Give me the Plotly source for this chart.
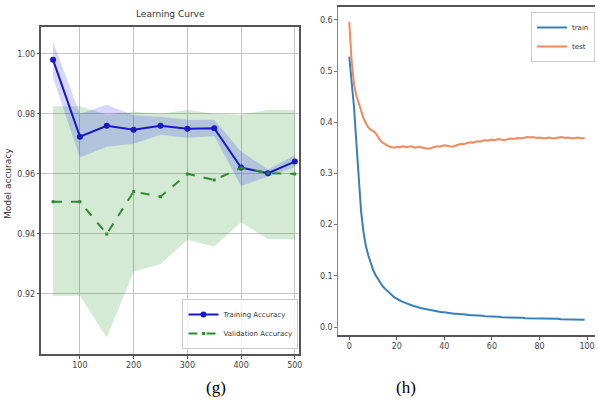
import plotly.graph_objects as go

# ---------------- data: (g) learning curve ----------------
train_sizes = [50, 100, 150, 200, 250, 300, 350, 400, 450, 500]
train_mean = [0.998, 0.9724, 0.976, 0.9747, 0.976, 0.975, 0.9752, 0.9621, 0.9602, 0.9641]
train_upper = [1.004, 0.980, 0.983, 0.9795, 0.979, 0.978, 0.978, 0.9675, 0.9615, 0.9663]
train_lower = [0.992, 0.9655, 0.969, 0.970, 0.973, 0.972, 0.9725, 0.9560, 0.9590, 0.9622]
val_mean = [0.9507, 0.9507, 0.940, 0.9541, 0.9524, 0.960, 0.958, 0.962, 0.9603, 0.960]
val_upper = [0.9825, 0.9825, 0.9797, 0.9807, 0.9800, 0.9813, 0.9800, 0.9797, 0.9813, 0.9813]
val_lower = [0.9194, 0.9194, 0.9054, 0.9274, 0.9300, 0.9380, 0.9358, 0.9439, 0.9382, 0.9382]
g_xticks = [100, 200, 300, 400, 500]
g_yticks = [0.92, 0.94, 0.96, 0.98, 1.00]
g_yticklabels = ["0.92", "0.94", "0.96", "0.98", "1.00"]

# ---------------- data: (h) loss curves ----------------
epochs = list(range(100))
train_loss = [
    0.528, 0.480, 0.430, 0.360, 0.290, 0.225, 0.185, 0.158, 0.140, 0.124,
    0.112, 0.102, 0.094, 0.087, 0.080, 0.075, 0.070, 0.066, 0.062, 0.058,
    0.055, 0.053, 0.050, 0.048, 0.046, 0.044, 0.042, 0.041, 0.040, 0.038,
    0.037, 0.036, 0.035, 0.034, 0.033, 0.032, 0.031, 0.031, 0.030, 0.029,
    0.029, 0.028, 0.028, 0.027, 0.026, 0.026, 0.025, 0.025, 0.025, 0.024,
    0.024, 0.023, 0.023, 0.023, 0.022, 0.022, 0.022, 0.021, 0.021, 0.021,
    0.020, 0.020, 0.020, 0.020, 0.019, 0.019, 0.019, 0.019, 0.018, 0.018,
    0.018, 0.018, 0.018, 0.018, 0.017, 0.017, 0.017, 0.017, 0.017, 0.017,
    0.017, 0.016, 0.016, 0.016, 0.016, 0.016, 0.016, 0.016, 0.016, 0.015,
    0.015, 0.015, 0.015, 0.015, 0.015, 0.015, 0.015, 0.015, 0.014, 0.014,
]
test_loss = [
    0.596, 0.520, 0.475, 0.452, 0.437, 0.420, 0.408, 0.398, 0.390, 0.385,
    0.383, 0.379, 0.371, 0.365, 0.360, 0.357, 0.354, 0.352, 0.351, 0.350,
    0.352, 0.351, 0.352, 0.353, 0.351, 0.352, 0.353, 0.351, 0.350, 0.352,
    0.351, 0.350, 0.349, 0.348, 0.349, 0.350, 0.352, 0.353, 0.352, 0.354,
    0.355, 0.354, 0.353, 0.352, 0.353, 0.355, 0.357, 0.358, 0.357, 0.359,
    0.360, 0.361, 0.360, 0.362, 0.363, 0.362, 0.364, 0.365, 0.364, 0.365,
    0.366, 0.365, 0.366, 0.367, 0.366, 0.365, 0.366, 0.367, 0.368, 0.367,
    0.368, 0.369, 0.368, 0.369, 0.370, 0.371, 0.370, 0.371, 0.370, 0.369,
    0.370, 0.369, 0.368, 0.369, 0.370, 0.369, 0.368, 0.369, 0.370, 0.371,
    0.370, 0.369, 0.370, 0.369, 0.368, 0.369, 0.370, 0.369, 0.368, 0.369,
]
h_xticks = [0, 20, 40, 60, 80, 100]
h_yticks = [0.0, 0.1, 0.2, 0.3, 0.4, 0.5, 0.6]
h_yticklabels = ["0.0", "0.1", "0.2", "0.3", "0.4", "0.5", "0.6"]

W, H = 598, 403
FONT = "DejaVu Sans"
TICKC = "#444444"

fig = go.Figure()

# bands
fig.add_trace(go.Scatter(
    x=train_sizes + train_sizes[::-1], y=val_upper + val_lower[::-1],
    fill="toself", fillcolor="rgba(0,128,0,0.17)", line=dict(width=0),
    mode="lines", showlegend=False, hoverinfo="skip", xaxis="x", yaxis="y"))
fig.add_trace(go.Scatter(
    x=train_sizes + train_sizes[::-1], y=train_upper + train_lower[::-1],
    fill="toself", fillcolor="rgba(0,0,255,0.16)", line=dict(width=0),
    mode="lines", showlegend=False, hoverinfo="skip", xaxis="x", yaxis="y"))
# lines
fig.add_trace(go.Scatter(
    x=train_sizes, y=train_mean, name="Training Accuracy", mode="lines+markers",
    line=dict(color="#1717c8", width=2), marker=dict(color="#1717c8", size=6, symbol="circle"),
    xaxis="x", yaxis="y", legend="legend"))
fig.add_trace(go.Scatter(
    x=train_sizes, y=val_mean, name="Validation Accuracy", mode="lines+markers",
    line=dict(color="#2e8b2e", width=2, dash="dash"), marker=dict(color="#2e8b2e", size=3, symbol="square"),
    xaxis="x", yaxis="y", legend="legend"))

fig.add_trace(go.Scatter(
    x=epochs, y=train_loss, name="train", mode="lines",
    line=dict(color="#3a7fb5", width=2), xaxis="x2", yaxis="y2", legend="legend2"))
fig.add_trace(go.Scatter(
    x=epochs, y=test_loss, name="test", mode="lines",
    line=dict(color="#f08a5d", width=2), xaxis="x2", yaxis="y2", legend="legend2"))

gx0, gx1 = 41.7 / W, 301 / W
gy0, gy1 = 1 - 354 / H, 1 - 26.5 / H
hx0, hx1 = 340 / W, 1.0
hy0, hy1 = 1 - 335 / H, 1 - 7 / H

fig.update_layout(
    width=W, height=H,
    margin=dict(l=0, r=0, t=0, b=0),
    paper_bgcolor="white", plot_bgcolor="white",
    font=dict(family=FONT, size=8, color=TICKC),
    xaxis=dict(domain=[gx0, gx1], range=[28.5, 508.7], tickvals=g_xticks,
               showgrid=True, gridcolor="#c4c4c4", gridwidth=1, zeroline=False,
               showline=True, linecolor="#555555", linewidth=1.5, mirror=True,
               ticks="outside", ticklen=3, tickcolor="#555555",
               tickfont=dict(size=8, color=TICKC), anchor="y"),
    yaxis=dict(domain=[gy0, gy1], range=[0.90, 1.0091], tickvals=g_yticks, ticktext=g_yticklabels,
               showgrid=True, gridcolor="#c4c4c4", gridwidth=1, zeroline=False,
               showline=True, linecolor="#555555", linewidth=1.5, mirror=True,
               ticks="outside", ticklen=3, tickcolor="#555555",
               tickfont=dict(size=8, color=TICKC), anchor="x"),
    xaxis2=dict(domain=[hx0, hx1], range=[-4.6, 103.35], tickvals=h_xticks,
                showgrid=False, zeroline=False,
                showline=True, linecolor="#555555", linewidth=1.5, mirror=True,
                ticks="outside", ticklen=3, tickcolor="#555555",
                tickfont=dict(size=8, color=TICKC), anchor="y2"),
    yaxis2=dict(domain=[hy0, hy1], range=[-0.0156, 0.625], tickvals=h_yticks, ticktext=h_yticklabels,
                showgrid=False, zeroline=False,
                showline=True, linecolor="#888888", linewidth=1, mirror=False,
                ticks="outside", ticklen=3, tickcolor="#777777",
                tickfont=dict(size=8, color=TICKC), anchor="x2"),
    legend=dict(x=300 / W, y=1 - 349 / H, xanchor="right", yanchor="bottom",
                bgcolor="rgba(255,255,255,0.8)", bordercolor="#cccccc", borderwidth=1,
                font=dict(size=7, family=FONT, color="#333333"),
                itemwidth=30, tracegroupgap=0),
    legend2=dict(x=1.0, y=1 - 12 / H, xanchor="right", yanchor="top",
                 bgcolor="rgba(255,255,255,0.8)", bordercolor="#cccccc", borderwidth=1,
                 font=dict(size=7, family=FONT, color="#333333"),
                 itemwidth=30, tracegroupgap=0),
    annotations=[
        dict(text="Learning Curve", x=(gx0 + gx1) / 2, y=1 - 14 / H, xref="paper", yref="paper",
             showarrow=False, font=dict(size=9, family=FONT, color="#333333"),
             xanchor="center", yanchor="middle"),
        dict(text="Model accuracy", x=8 / W, y=1 - 183 / H, xref="paper", yref="paper",
             showarrow=False, textangle=-90, font=dict(size=9, family=FONT, color="#333333"),
             xanchor="center", yanchor="middle"),
        dict(text="(g)", x=217 / W, y=1 - 387 / H, xref="paper", yref="paper",
             showarrow=False, font=dict(size=17, family="Liberation Serif", color="black"),
             xanchor="center", yanchor="middle"),
        dict(text="(h)", x=408 / W, y=1 - 387 / H, xref="paper", yref="paper",
             showarrow=False, font=dict(size=17, family="Liberation Serif", color="black"),
             xanchor="center", yanchor="middle"),
    ],
)

fig.write_html("out.html", config={"displayModeBar": False},
               post_script="document.body.style.margin='0';document.body.style.overflow='hidden';")
